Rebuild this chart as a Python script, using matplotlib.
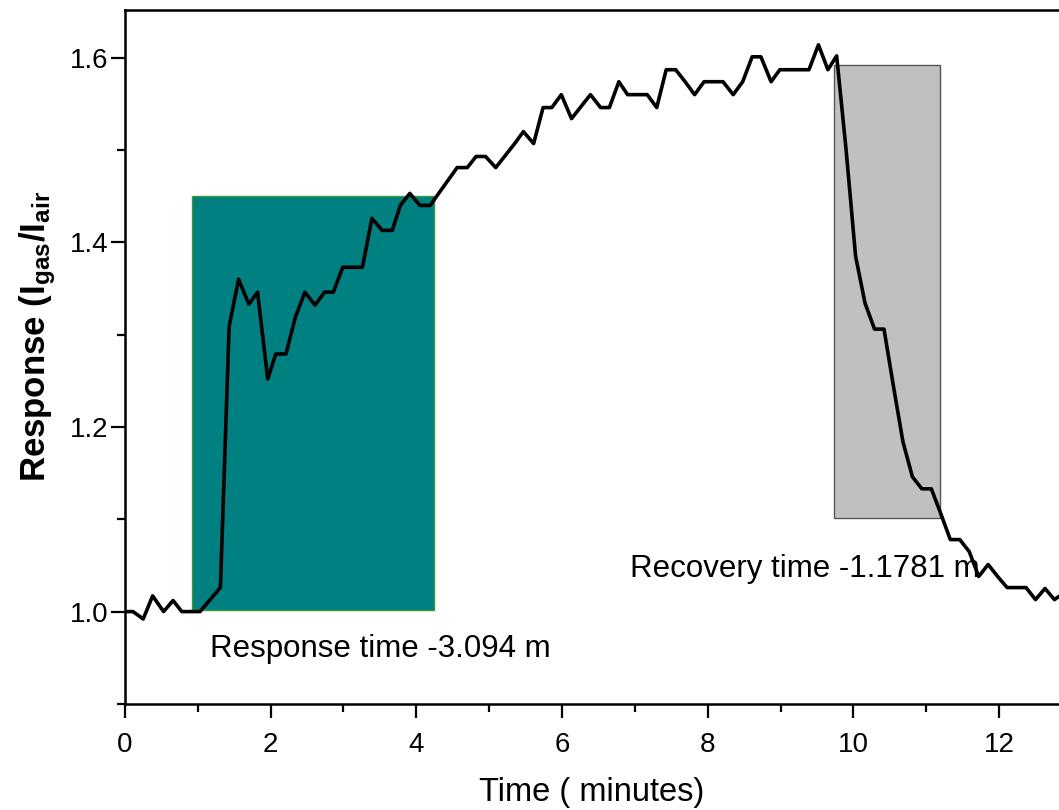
import matplotlib
matplotlib.use("Agg")
import matplotlib.pyplot as plt
from matplotlib.patches import Rectangle
from matplotlib.ticker import MultipleLocator

plt.rcParams["font.family"] = ["Liberation Sans", "DejaVu Sans"]
plt.rcParams["mathtext.default"] = "regular"

# time (minutes) and response
time_min = [0.00, 0.11, 0.25, 0.38, 0.53, 0.66, 0.78, 0.91, 1.03, 1.17, 1.31, 1.43,
            1.56, 1.70, 1.82, 1.96, 2.07, 2.21, 2.34, 2.47, 2.61, 2.74, 2.86, 2.99,
            3.13, 3.26, 3.39, 3.53, 3.67, 3.78, 3.91, 4.05, 4.19, 4.37, 4.56, 4.70,
            4.82, 4.95, 5.09, 5.22, 5.35, 5.47, 5.61, 5.74, 5.86, 5.99, 6.13, 6.26,
            6.39, 6.53, 6.65, 6.78, 6.90, 7.04, 7.17, 7.30, 7.43, 7.56, 7.69, 7.82,
            7.95, 8.08, 8.21, 8.35, 8.48, 8.61, 8.73, 8.87, 8.99, 9.13, 9.26, 9.39,
            9.52, 9.65, 9.77, 9.90, 10.03, 10.16, 10.29, 10.42, 10.55, 10.68, 10.81,
            10.94, 11.07, 11.20, 11.33, 11.46, 11.59, 11.72, 11.85, 11.98, 12.11,
            12.24, 12.37, 12.50, 12.63, 12.76, 12.89]
response = [1.000, 1.000, 0.992, 1.017, 1.000, 1.012, 1.000, 1.000, 1.000, 1.013, 1.026, 1.309,
            1.360, 1.333, 1.346, 1.252, 1.279, 1.279, 1.319, 1.346, 1.332, 1.346, 1.346, 1.373,
            1.373, 1.373, 1.426, 1.413, 1.413, 1.440, 1.453, 1.440, 1.440, 1.460, 1.481, 1.481,
            1.493, 1.493, 1.481, 1.494, 1.507, 1.520, 1.507, 1.546, 1.546, 1.560, 1.534, 1.547,
            1.560, 1.546, 1.546, 1.574, 1.560, 1.560, 1.560, 1.546, 1.587, 1.587, 1.574, 1.560,
            1.574, 1.574, 1.574, 1.560, 1.574, 1.601, 1.601, 1.574, 1.587, 1.587, 1.587, 1.587,
            1.614, 1.587, 1.602, 1.500, 1.385, 1.334, 1.306, 1.306, 1.244, 1.184, 1.146,
            1.133, 1.133, 1.106, 1.078, 1.078, 1.065, 1.038, 1.051, 1.038, 1.026,
            1.026, 1.026, 1.013, 1.025, 1.013, 1.020]

# shaded windows: (t_start, t_end, r_low, r_high)
resp_box = (0.92, 4.24, 1.002, 1.450)
recov_box = (9.73, 11.19, 1.101, 1.592)
resp_label = "Response time -3.094 m"
recov_label = "Recovery time -1.1781 m"
x_ticks = [0, 2, 4, 6, 8, 10, 12]
y_ticks = [1.0, 1.2, 1.4, 1.6]

fig = plt.figure(figsize=(10.59, 8.10), dpi=100)
ax = fig.add_axes([0.118, 0.131, 0.963, 0.857])

t0, t1, r0, r1 = resp_box
ax.add_patch(Rectangle((t0, r0), t1 - t0, r1 - r0, facecolor="#008080",
                       edgecolor="#3a9a3a", lw=1.0, zorder=1))
t0, t1, r0, r1 = recov_box
ax.add_patch(Rectangle((t0, r0), t1 - t0, r1 - r0, facecolor="#c0c0c0",
                       edgecolor="#555555", lw=1.0, zorder=1))

ax.plot(time_min, response, color="black", lw=2.6, zorder=3)

ax.text(1.17, 0.959, resp_label, fontsize=22.5, va="center", ha="left", zorder=4)
ax.text(6.93, 1.046, recov_label, fontsize=22.5, va="center", ha="left", zorder=2)

ax.set_xlim(0, 14)
ax.set_ylim(0.9, 1.652)
ax.set_xticks(x_ticks)
ax.xaxis.set_minor_locator(MultipleLocator(1))
ax.set_yticks(y_ticks)
ax.yaxis.set_minor_locator(MultipleLocator(0.1))
ax.tick_params(which="both", direction="out", width=1.6, labelsize=20,
               top=False, right=False)
ax.tick_params(which="major", length=10)
ax.tick_params(which="minor", length=5.5)
ax.tick_params(axis="x", which="major", pad=10)
ax.tick_params(axis="y", which="major", pad=2)
for s in ax.spines.values():
    s.set_linewidth(1.8)

ax.set_xlabel("Time ( minutes)", fontsize=23.5)
ax.xaxis.set_label_coords(0.458, -0.106)
ax.set_ylabel("Response (I$_{gas}$/I$_{air}$", fontsize=25, fontweight="bold")
ax.yaxis.set_label_coords(-0.066, 0.529)

fig.savefig("out.png", dpi=100)
